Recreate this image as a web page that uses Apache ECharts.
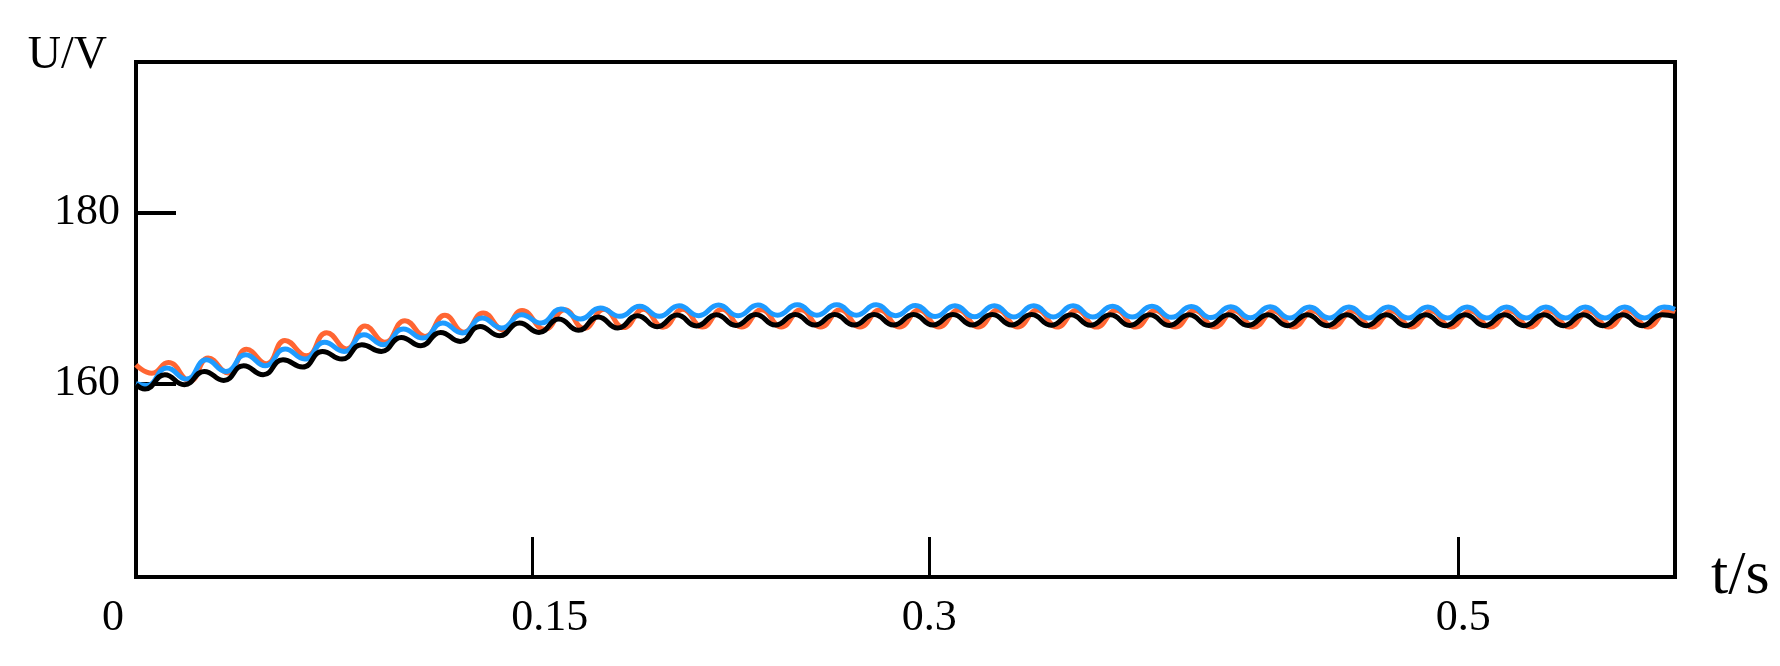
<!DOCTYPE html>
<html>
<head>
<meta charset="utf-8">
<title>U/V - t/s</title>
<script src="https://cdn.jsdelivr.net/npm/echarts@6.0.0/dist/echarts.min.js"></script>
<style>
	html, body { margin: 0; padding: 0; background: #fff; }
	#main { width: 1780px; height: 666px; }
</style>
</head>
<body>
<div id="main"></div>
<script>
// axis ticks
const xTicks = [0.15, 0.3, 0.5];
const xLabels = [0, 0.15, 0.3, 0.5];
const yTicks = [160, 180];

// orange curve: peaks / troughs (t in s, U in V)
const orangeT = [0.0000, 0.0060, 0.0122, 0.0204, 0.0273, 0.0349, 0.0418, 0.0494, 0.0563, 0.0645,
	0.0721, 0.0797, 0.0866, 0.0941, 0.1017, 0.1093, 0.1168, 0.1240, 0.1313, 0.1389,
	0.1460, 0.1546, 0.1621, 0.1695, 0.1770, 0.1844, 0.1919, 0.1993, 0.2068, 0.2142,
	0.2217, 0.2291, 0.2366, 0.2440, 0.2515, 0.2589, 0.2664, 0.2738, 0.2813, 0.2887,
	0.2962, 0.3036, 0.3111, 0.3185, 0.3260, 0.3334, 0.3409, 0.3483, 0.3558, 0.3632,
	0.3707, 0.3781, 0.3856, 0.3930, 0.4005, 0.4079, 0.4154, 0.4228, 0.4303, 0.4377,
	0.4452, 0.4526, 0.4601, 0.4675, 0.4750, 0.4824, 0.4899, 0.4973, 0.5048, 0.5122,
	0.5197, 0.5271, 0.5346, 0.5420, 0.5495, 0.5569, 0.5644, 0.5718, 0.5793, 0.5820];
const orangeV = [162.20, 161.20, 162.45, 160.30, 162.98, 161.22, 164.00, 162.31, 165.05, 163.25,
	165.95, 164.04, 166.75, 164.82, 167.36, 165.52, 168.00, 166.00, 168.27, 166.30,
	168.55, 166.35, 168.65, 166.45, 168.70, 166.55, 168.70, 166.60, 168.70, 166.62,
	168.70, 166.62, 168.65, 166.62, 168.65, 166.62, 168.65, 166.62, 168.62, 166.62,
	168.62, 166.62, 168.60, 166.62, 168.60, 166.62, 168.60, 166.62, 168.58, 166.62,
	168.58, 166.62, 168.55, 166.62, 168.55, 166.62, 168.52, 166.62, 168.50, 166.62,
	168.50, 166.62, 168.50, 166.62, 168.50, 166.62, 168.50, 166.62, 168.50, 166.62,
	168.50, 166.62, 168.50, 166.62, 168.50, 166.62, 168.50, 166.62, 168.50, 168.30];

// blue curve
const blueT = [0.0000, 0.0040, 0.0117, 0.0191, 0.0266, 0.0340, 0.0415, 0.0489, 0.0564, 0.0638,
	0.0713, 0.0787, 0.0862, 0.0936, 0.1011, 0.1085, 0.1160, 0.1234, 0.1309, 0.1383,
	0.1458, 0.1532, 0.1607, 0.1681, 0.1756, 0.1830, 0.1905, 0.1979, 0.2054, 0.2128,
	0.2203, 0.2277, 0.2352, 0.2426, 0.2501, 0.2575, 0.2650, 0.2724, 0.2799, 0.2873,
	0.2948, 0.3022, 0.3097, 0.3171, 0.3246, 0.3320, 0.3395, 0.3469, 0.3544, 0.3618,
	0.3693, 0.3767, 0.3842, 0.3916, 0.3991, 0.4065, 0.4140, 0.4214, 0.4289, 0.4363,
	0.4438, 0.4512, 0.4587, 0.4661, 0.4736, 0.4810, 0.4885, 0.4959, 0.5034, 0.5108,
	0.5183, 0.5257, 0.5332, 0.5406, 0.5481, 0.5555, 0.5630, 0.5704, 0.5779, 0.5820];
const blueV = [159.97, 159.75, 161.80, 160.51, 162.78, 161.41, 163.37, 162.08, 164.04, 162.86,
	164.82, 163.76, 165.72, 164.54, 166.39, 165.32, 167.09, 165.92, 167.68, 166.50,
	168.07, 167.09, 168.73, 167.56, 168.85, 167.87, 169.05, 167.87, 169.12, 167.95,
	169.20, 167.95, 169.20, 168.00, 169.22, 168.00, 169.22, 168.00, 169.22, 167.95,
	169.15, 167.85, 169.12, 167.82, 169.12, 167.80, 169.10, 167.80, 169.10, 167.78,
	169.05, 167.78, 169.05, 167.75, 169.02, 167.72, 169.00, 167.70, 169.00, 167.68,
	168.97, 167.68, 168.97, 167.68, 168.97, 167.68, 168.97, 167.68, 168.97, 167.68,
	168.97, 167.68, 168.97, 167.68, 168.97, 167.68, 168.97, 167.68, 168.97, 168.70];

// black curve
const blackT = [0.0000, 0.0034, 0.0109, 0.0183, 0.0258, 0.0332, 0.0407, 0.0481, 0.0556, 0.0630,
	0.0705, 0.0779, 0.0854, 0.0928, 0.1003, 0.1077, 0.1152, 0.1226, 0.1301, 0.1375,
	0.1450, 0.1524, 0.1599, 0.1673, 0.1748, 0.1822, 0.1897, 0.1971, 0.2046, 0.2120,
	0.2195, 0.2269, 0.2344, 0.2418, 0.2493, 0.2567, 0.2642, 0.2716, 0.2791, 0.2865,
	0.2940, 0.3014, 0.3089, 0.3163, 0.3238, 0.3312, 0.3387, 0.3461, 0.3536, 0.3610,
	0.3685, 0.3759, 0.3834, 0.3908, 0.3983, 0.4057, 0.4132, 0.4206, 0.4281, 0.4355,
	0.4430, 0.4504, 0.4579, 0.4653, 0.4728, 0.4802, 0.4877, 0.4951, 0.5026, 0.5100,
	0.5175, 0.5249, 0.5324, 0.5398, 0.5473, 0.5547, 0.5622, 0.5696, 0.5771, 0.5820];
const blackV = [159.85, 159.34, 161.02, 159.85, 161.41, 160.35, 162.08, 161.02, 162.78, 161.92,
	163.76, 162.86, 164.54, 163.76, 165.40, 164.43, 165.99, 164.93, 166.69, 165.60,
	167.09, 165.99, 167.56, 166.23, 167.80, 166.50, 167.95, 166.65, 168.02, 166.75,
	168.07, 166.80, 168.10, 166.85, 168.10, 166.85, 168.10, 166.85, 168.10, 166.85,
	168.10, 166.85, 168.08, 166.85, 168.08, 166.85, 168.08, 166.83, 168.07, 166.82,
	168.07, 166.80, 168.07, 166.80, 168.07, 166.80, 168.07, 166.80, 168.07, 166.78,
	168.07, 166.78, 168.07, 166.78, 168.07, 166.78, 168.07, 166.78, 168.07, 166.78,
	168.07, 166.78, 168.07, 166.78, 168.07, 166.78, 168.07, 166.78, 168.07, 167.85];

function pairs(ts, vs) {
	return ts.map(function (t, i) { return [t, vs[i]]; });
}

var chart = echarts.init(document.getElementById('main'), null, { renderer: 'canvas' });
var serif = 'Liberation Serif';

var option = {
	backgroundColor: '#ffffff',
	animation: false,
	grid: {
		left: 136, right: 105, top: 62, bottom: 89,
		show: true, borderColor: '#000', borderWidth: 4
	},
	xAxis: {
		type: 'value',
		min: 0,
		max: 0.582,
		name: 't/s',
		nameLocation: 'end',
		nameGap: 36,
		nameTextStyle: { fontFamily: serif, fontSize: 62, color: '#000', align: 'left', verticalAlign: 'middle', padding: [0, 0, 12, 0] },
		axisLine: { lineStyle: { color: '#000', width: 4 } },
		axisTick: { inside: true, length: 40, customValues: xTicks, lineStyle: { color: '#000', width: 3 } },
		axisLabel: {
			customValues: xLabels,
			margin: 19,
			fontFamily: serif,
			fontSize: 44,
			color: '#000',
			formatter: function (v) {
				if (v === 0) return '{z|0}';
				if (v === 0.15) return '{f|0.15}';
				if (v === 0.5) return '{g|0.5}';
				return '{n|' + v + '}';
			},
			rich: {
				z: { fontFamily: serif, fontSize: 44, color: '#000', padding: [0, 46, 0, 0] },
				f: { fontFamily: serif, fontSize: 44, color: '#000', padding: [0, 0, 0, 34] },
				g: { fontFamily: serif, fontSize: 44, color: '#000', padding: [0, 0, 0, 10] },
				n: { fontFamily: serif, fontSize: 44, color: '#000' }
			}
		},
		splitLine: { show: false }
	},
	yAxis: {
		type: 'value',
		min: 137.3,
		max: 197.7,
		name: 'U/V',
		nameLocation: 'end',
		nameGap: 6,
		nameTextStyle: { fontFamily: serif, fontSize: 46, color: '#000', align: 'right', verticalAlign: 'middle', padding: [0, 29, 0, 0] },
		axisLine: { lineStyle: { color: '#000', width: 4 } },
		axisTick: { inside: true, length: 40, customValues: yTicks, lineStyle: { color: '#000', width: 4 } },
		axisLabel: { customValues: yTicks, margin: 16, fontFamily: serif, fontSize: 44, color: '#000', padding: [6, 0, 0, 0] },
		splitLine: { show: false }
	},
	series: [{
		name: 'orange',
		type: 'line',
		data: pairs(orangeT, orangeV),
		showSymbol: false,
		smooth: 0.5,
		lineStyle: { color: '#FF6633', width: 5 },
		z: 2
	}, {
		name: 'blue',
		type: 'line',
		data: pairs(blueT, blueV),
		showSymbol: false,
		smooth: 0.5,
		lineStyle: { color: '#1E9BFF', width: 5 },
		z: 3
	}, {
		name: 'black',
		type: 'line',
		data: pairs(blackT, blackV),
		showSymbol: false,
		smooth: 0.5,
		lineStyle: { color: '#000000', width: 5 },
		z: 4
	}]
};

chart.setOption(option);
</script>
</body>
</html>
